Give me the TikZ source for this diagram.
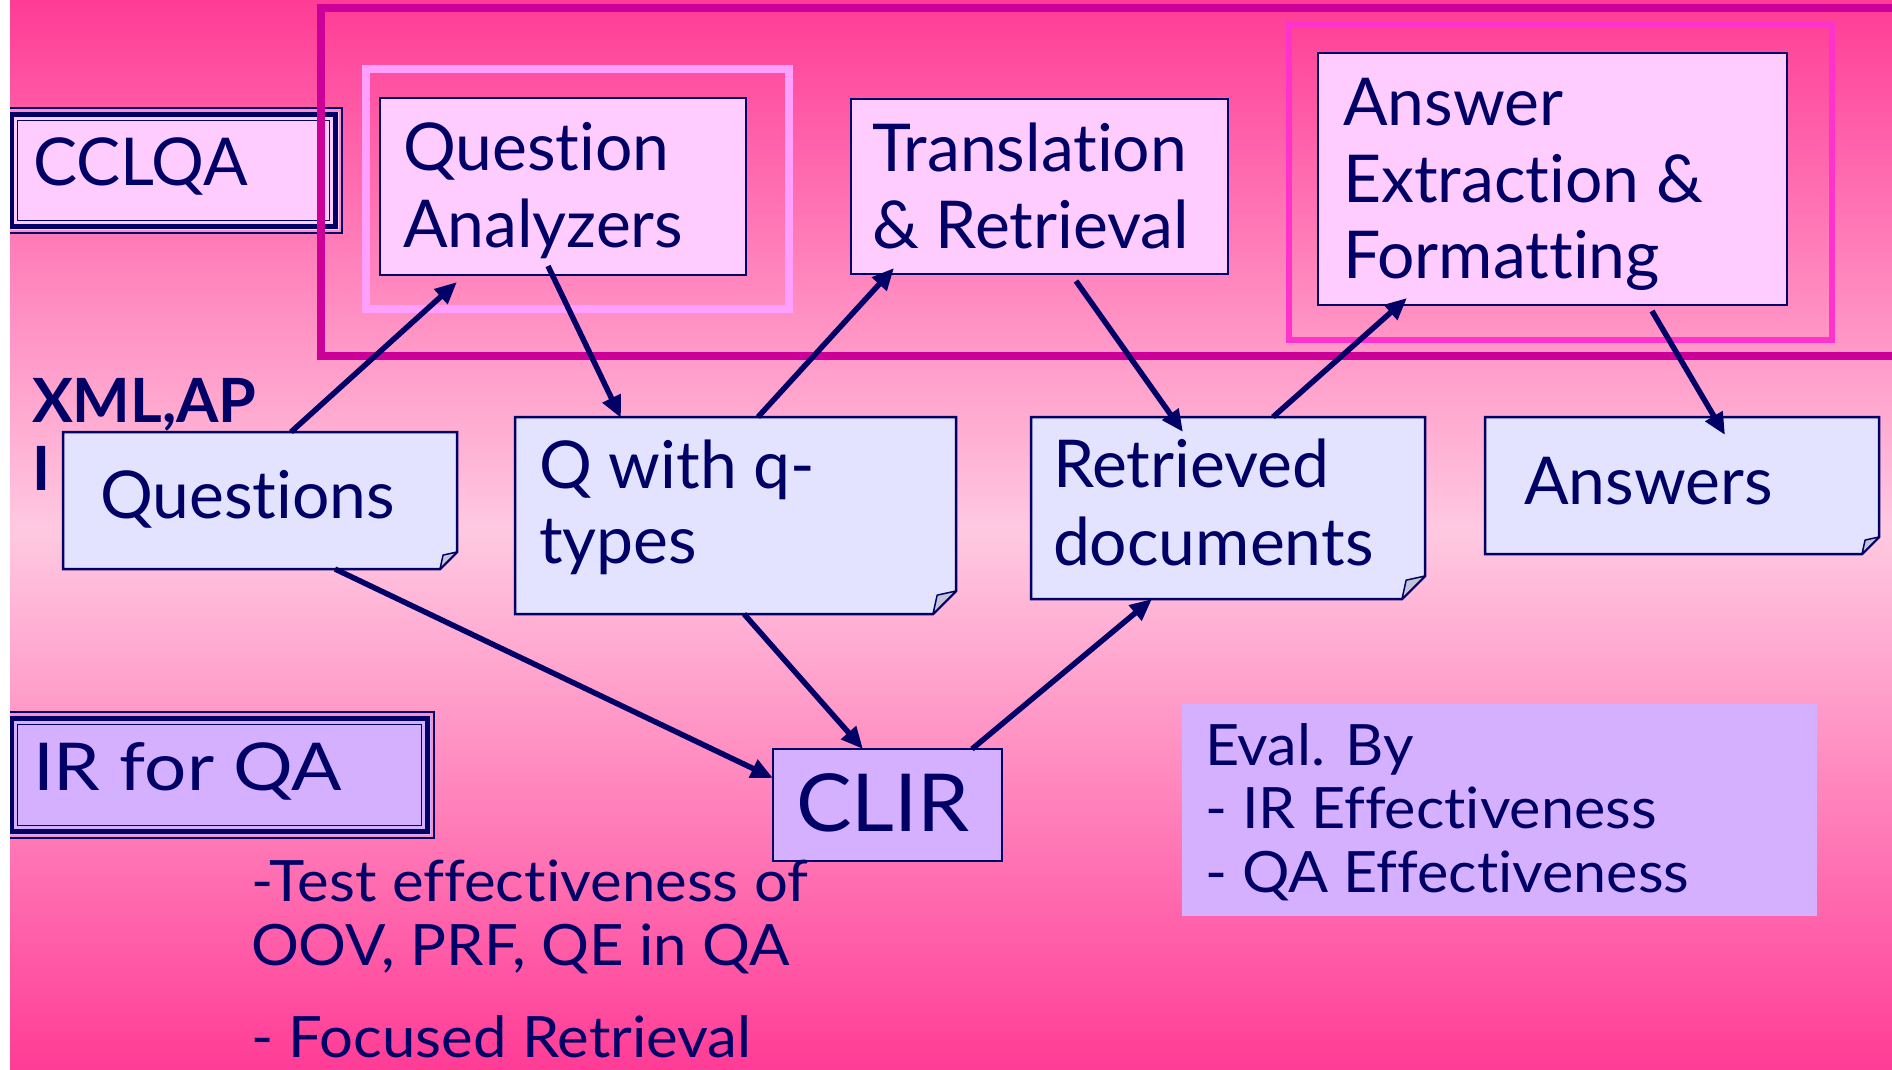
\documentclass[tikz,border=0pt]{standalone}
\usepackage{fontspec}
\usepackage{graphicx}
\setmainfont{Lato}[Ligatures={NoCommon,NoContextual}]
\usetikzlibrary{arrows.meta,calc}

\definecolor{navy}{HTML}{000066}
\definecolor{hotpink}{HTML}{FF3C96}
\definecolor{palepink}{HTML}{FFC9E1}
\definecolor{regionframe}{HTML}{CC0099}
\definecolor{qaframe}{HTML}{FFA0FF}
\definecolor{ansframe}{HTML}{FF33CC}
\definecolor{boxfill}{HTML}{FFCCFF}
\definecolor{notefill}{HTML}{E3E3FF}
\definecolor{foldfill}{HTML}{C4C4D8}
\definecolor{lilac}{HTML}{D5B0FF}
\definecolor{gappink}{HTML}{FF8CC4}

\newcommand\fntbig{\fontsize{66}{77}\selectfont}
\newcommand\fntclir{\fontsize{80}{90}\selectfont}
\newcommand\fntsmall{\fontsize{57}{63}\selectfont}
\newcommand\fntxml{\fontsize{61}{70}\selectfont\bfseries}

% thin / thick / thin border drawn inside a named node
\newcommand\tripleframe[1]{%
  \draw[navy,line width=2pt] ([xshift=1pt,yshift=-1pt]#1.north west) rectangle ([xshift=-1pt,yshift=1pt]#1.south east);
  \draw[gappink,line width=2.5pt] ([xshift=3.25pt,yshift=-3.25pt]#1.north west) rectangle ([xshift=-3.25pt,yshift=3.25pt]#1.south east);
  \draw[navy,line width=5.5pt] ([xshift=7.5pt,yshift=-7.5pt]#1.north west) rectangle ([xshift=-7.5pt,yshift=7.5pt]#1.south east);
  \draw[navy,line width=1.8pt] ([xshift=13.5pt,yshift=-13.5pt]#1.north west) rectangle ([xshift=-13.5pt,yshift=13.5pt]#1.south east);
}

% note sheet with a folded bottom-right corner, drawn over a named node
\newcommand\notesheet[2]{%
  \filldraw[fill=notefill,draw=navy,line width=2.5pt,line join=miter]
    (#1.north west) -- (#1.north east) -- ([yshift=#2]#1.south east)
    -- ([xshift=-#2]#1.south east) -- (#1.south west) -- cycle;
  \filldraw[fill=foldfill,draw=navy,line width=1.5pt,line join=round]
    ([xshift=-#2]#1.south east) -- ([yshift=#2]#1.south east)
    -- ([xshift=-0.82*#2,yshift=0.82*#2]#1.south east) -- cycle;
}

\tikzset{
  box/.style={draw=navy,line width=2.5pt,fill=boxfill,anchor=north west,inner sep=0pt,outer sep=0pt},
  plain/.style={anchor=north west,inner sep=0pt,outer sep=0pt},
  lbl/.style={anchor=base west,inner sep=0pt,outer sep=0pt,text=navy,font=\fntbig},
  small/.style={lbl,font=\fntsmall},
  arr/.style={draw=navy,line width=5.5pt,-{Triangle[length=22pt,width=19pt]}},
}

\begin{document}
\begin{tikzpicture}[x=1pt,y=-1pt]
\useasboundingbox (0,0) rectangle (1892,1069);

% background gradient
\shade[top color=hotpink,bottom color=palepink] (10,0) rectangle (1892,531);
\shade[top color=palepink,bottom color=hotpink] (10,530) rectangle (1892,1069);

% stage labels
\node[plain,fill=boxfill,minimum width=339pt,minimum height=127pt] (cclqa) at (4,107) {};
\tripleframe{cclqa}
\node[lbl] (cclqat) at (33,185) {CCLQA};

\node[plain,fill=lilac,minimum width=431pt,minimum height=128pt] (irqa) at (4,711) {};
\tripleframe{irqa}
\node[lbl] (irqat) at (33,790) {\scalebox{1.13}[1]{IR for QA}};

% input format note
\node[lbl,font=\fntxml] (xml1) at (32,422) {XML,AP};
\node[lbl,font=\fntxml] (xml2) at (32,490) {I};

% CCLQA region and highlighted stages
\draw[regionframe,line width=8pt] (321,8) rectangle (1910,356);
\draw[qaframe,line width=8pt] (366,69) rectangle (789,309);
\draw[ansframe,line width=5.5pt] (1289,24) rectangle (1832,340);

% processing stages
\node[box,minimum width=366pt,minimum height=177pt] (qa) at (380,98) {};
\node[lbl] (qat1) at (403,170) {Question};
\node[lbl] (qat2) at (403,247) {Analyzers};

\node[box,minimum width=377pt,minimum height=175pt] (tr) at (851,99) {};
\node[lbl] (trt1) at (872,171) {Translation};
\node[lbl] (trt2) at (872,248) {\& Retrieval};

\node[box,minimum width=469pt,minimum height=252pt] (ae) at (1318,53) {};
\node[lbl] (aet1) at (1343,125) {Answer};
\node[lbl] (aet2) at (1343,202) {Extraction \&};
\node[lbl] (aet3) at (1343,278) {Formatting};

% intermediate data
\node[plain,minimum width=394pt,minimum height=137pt] (qs) at (63,432) {};
\notesheet{qs}{17pt}
\node[lbl] (qst) at (100,518) {Questions};

\node[plain,minimum width=441pt,minimum height=197pt] (qt) at (515,417) {};
\notesheet{qt}{23pt}
\node[lbl] (qtt1) at (539,488) {Q with q-};
\node[lbl] (qtt2) at (539,563) {types};

\node[plain,minimum width=394pt,minimum height=182pt] (rd) at (1031,417) {};
\notesheet{rd}{23pt}
\node[lbl] (rdt1) at (1053,487) {Retrieved};
\node[lbl] (rdt2) at (1053,565) {documents};

\node[plain,minimum width=394pt,minimum height=137pt] (an) at (1485,417) {};
\notesheet{an}{17pt}
\node[lbl] (ant) at (1524,504) {Answers};

% retrieval module
\node[box,fill=lilac,minimum width=229pt,minimum height=112pt] (clir) at (773,749) {};
\node[lbl,font=\fntclir] (clirt) at (796,831) {\scalebox{1.04}[1]{CLIR}};

% evaluation
\node[plain,fill=lilac,minimum width=635pt,minimum height=212pt] (eval) at (1182,704) {};
\node[small] (ev1) at (1205,765) {\scalebox{1.04}[1]{Eval. By}};
\node[small] (ev2) at (1205,828) {\scalebox{1.04}[1]{- IR Effectiveness}};
\node[small] (ev3) at (1205,892) {\scalebox{1.04}[1]{- QA Effectiveness}};

% research goals
\node[small] (rg1) at (251,901) {\scalebox{1.05}[1]{-Test effectiveness of}};
\node[small] (rg2) at (251,965) {\scalebox{1.05}[1]{OOV, PRF, QE in QA}};
\node[small] (rg3) at (251,1057) {\scalebox{1.05}[1]{- Focused Retrieval}};

% data flow
\draw[arr] ([xshift=228pt]qs.north west) -- ([xshift=77pt,yshift=-7pt]qa.south west);
\draw[arr] ([xshift=168pt,yshift=9pt]qa.south west) -- ([xshift=106pt,yshift=-1pt]qt.north west);
\draw[arr] ([xshift=243pt]qt.north west) -- ([xshift=43pt,yshift=6pt]tr.south west);
\draw[arr] ([xshift=225pt,yshift=-7pt]tr.south west) -- ([xshift=152pt,yshift=-15pt]rd.north west);
\draw[arr] ([xshift=242pt]rd.north west) -- ([xshift=89pt,yshift=7pt]ae.south west);
\draw[arr] ([xshift=334pt,yshift=-6pt]ae.south west) -- ([xshift=240pt,yshift=-18pt]an.north west);
\draw[arr] ([xshift=272pt]qs.south west) -- ([yshift=-29pt]clir.north west);
\draw[arr] ([xshift=229pt]qt.south west) -- ([xshift=90pt]clir.north west);
\draw[arr] ([xshift=199pt]clir.north west) -- ([xshift=121pt]rd.south west);

% page margin
\fill[white] (0,0) rectangle (10,1069);
\end{tikzpicture}
\end{document}
